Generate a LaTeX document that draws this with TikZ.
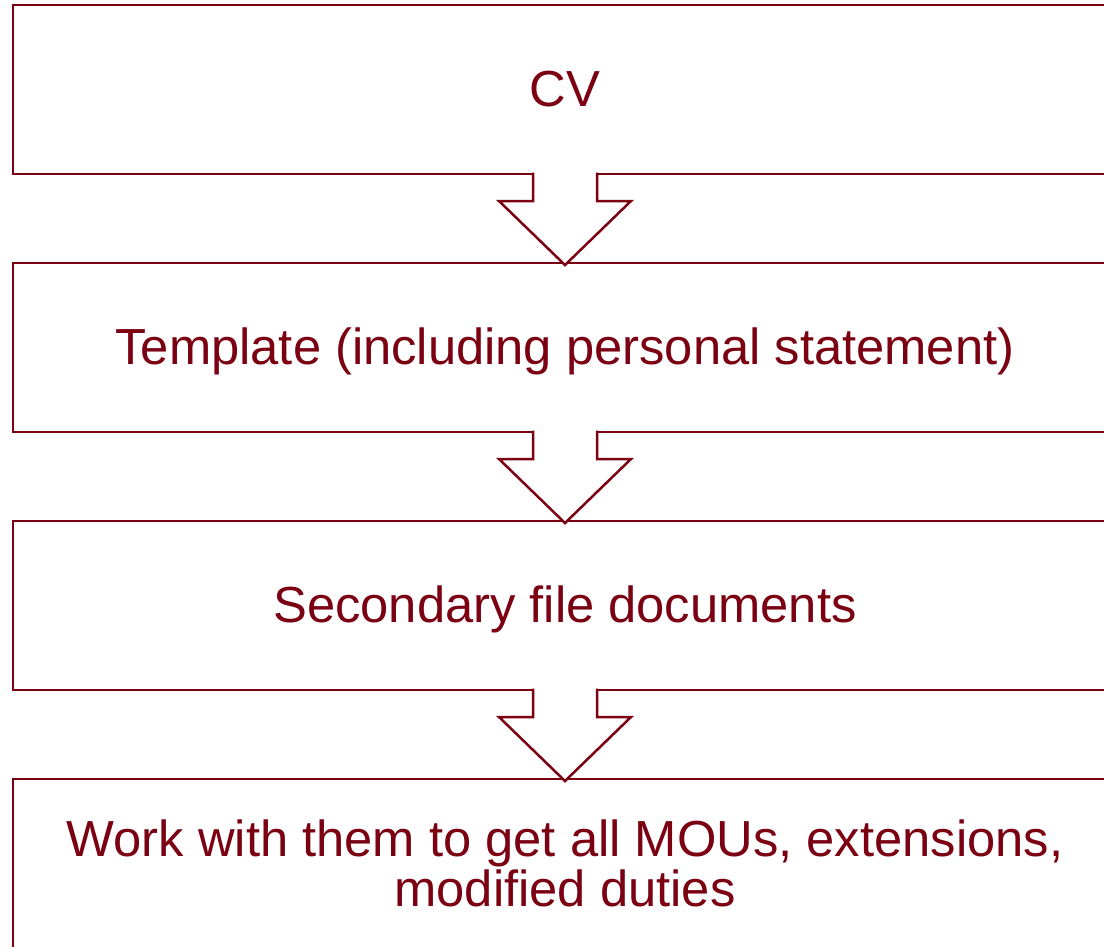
\documentclass[tikz,border=0pt]{standalone}
\usepackage{fontspec}
\setmainfont{Liberation Sans}
\usetikzlibrary{positioning}
\definecolor{darkmaroon}{RGB}{122,0,18}
\tikzstyle{stage} = [rectangle, draw=darkmaroon, line width=2.5pt, minimum width=1104pt, minimum height=169pt, align=center, text=darkmaroon, font=\fontsize{50.7}{50}\selectfont, outer sep=0pt]
\tikzstyle{oneline} = [text height=33pt, text depth=0pt]
\tikzstyle{flow} = [draw=darkmaroon, line width=2.5pt, fill=white, line join=miter]

\begin{document}
\begin{tikzpicture}[x=1pt,y=-1pt]
        \useasboundingbox (0,0) rectangle (1104,946);
        \clip (0,0) rectangle (1104,946);
        \node (cv) [stage, oneline] at (565,89.5) {CV};
        \node (tmpl) [stage, oneline, below=89pt of cv]
            {Template (including personal statement)};
        \node (sec) [stage, oneline, below=89pt of tmpl] {Secondary file documents};
        \node (work) [stage, below=89pt of sec]
            {Work with them to get all MOUs, extensions,\\ modified duties};

        \foreach \a/\b in {cv/tmpl, tmpl/sec, sec/work}
            \draw [flow] ([xshift=-32pt, yshift=1.3pt]\a.south) -- ++(0,28.3)
                -- ++(-34,0) -- ([yshift=-2pt]\b.north) -- ++(66,-64)
                -- ++(-34,0) -- ++(0,-28.3);
    \end{tikzpicture}
\end{document}
